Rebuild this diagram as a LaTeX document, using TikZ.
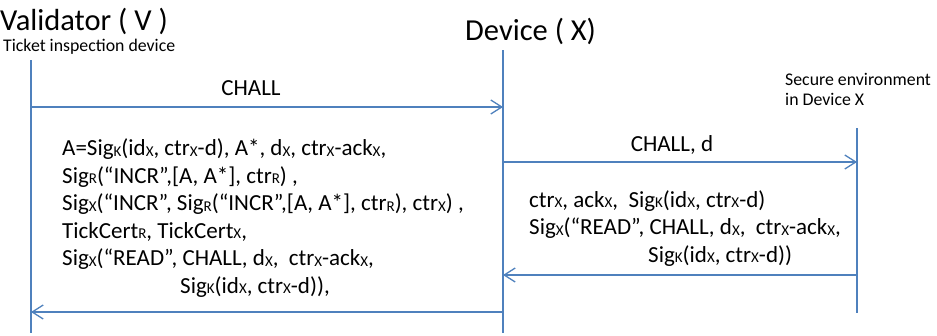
\documentclass[tikz,border=0pt]{standalone}
\usepackage{fontspec}
\setmainfont{Carlito}
\usetikzlibrary{arrows.meta}
\definecolor{lineblue}{RGB}{79,129,189}
\newcommand\lo[1]{\raisebox{-0.9pt}{\fontsize{15}{15}\selectfont #1}}

\begin{document}
\begin{tikzpicture}[x=1pt,y=-1pt,
  life/.style={draw=lineblue,line width=1.3pt},
  msg/.style={draw=lineblue,line width=1.3pt,-{Straight Barb[length=11pt,width=14pt,line width=1.3pt]}},
  title/.style={inner sep=0pt,anchor=base west,font=\fontsize{30.5}{30}\selectfont},
  note/.style={inner sep=0pt,anchor=base west,font=\fontsize{17.8}{20}\selectfont,align=left},
  lbl/.style={inner sep=0pt,anchor=base,font=\fontsize{23}{23}\selectfont},
  block/.style={inner sep=0pt,anchor=base west,font=\fontsize{23}{27.5}\selectfont,align=left}]
\useasboundingbox (0,0) rectangle (937,335);

\node[title] (vtitle) at (0,30) {Validator ( V )};
\node[note] (vnote) at (3,51) {Ticket inspection device};
\node[title] (xtitle) at (465,40) {Device ( X)};
% multi-line nodes: base is the last line
\node[note] (snote) at (785,105) {Secure environment\\in Device X};

\coordinate (vtop) at (31,60);   \coordinate (vbot) at (31,333);
\coordinate (xtop) at (503,50);  \coordinate (xbot) at (503,333);
\coordinate (stop) at (857,128); \coordinate (sbot) at (857,313);
\draw[life] (vtop) -- (vbot);
\draw[life] (xtop) -- (xbot);
\draw[life] (stop) -- (sbot);

\coordinate (v1) at (31,107);  \coordinate (x1) at (503,107);
\coordinate (x2) at (503,162); \coordinate (s2) at (857,162);
\coordinate (s3) at (857,275); \coordinate (x3) at (503,275);
\coordinate (x4) at (503,312); \coordinate (v4) at (31,312);

\draw[msg] (v1) -- (x1);
\node[lbl] (chall) at (251,95) {CHALL};
\draw[msg] (x2) -- (s2);
\node[lbl] (challd) at (672,151) {CHALL, d};
\draw[msg] (s3) -- (x3);
\node[block] (xreply) at (529,262) {ctr\lo{X}, ack\lo{X},\ \ Sig\lo{K}(id\lo{X}, ctr\lo{X}-d)\\
Sig\lo{X}(“READ”, CHALL, d\lo{X},\ \ ctr\lo{X}-ack\lo{X},\\
\hspace*{119pt}Sig\lo{K}(id\lo{X}, ctr\lo{X}-d))};
\draw[msg] (x4) -- (v4);
\node[block] (vproof) at (62,293) {A=Sig\lo{K}(id\lo{X}, ctr\lo{X}-d), A*, d\lo{X}, ctr\lo{X}-ack\lo{X},\\
Sig\lo{R}(“INCR”,[A, A*], ctr\lo{R}) ,\\
Sig\lo{X}(“INCR”, Sig\lo{R}(“INCR”,[A, A*], ctr\lo{R}), ctr\lo{X}) ,\\
TickCert\lo{R}, TickCert\lo{X},\\
Sig\lo{X}(“READ”, CHALL, d\lo{X},\ \ ctr\lo{X}-ack\lo{X},\\
\hspace*{118pt}Sig\lo{K}(id\lo{X}, ctr\lo{X}-d)),};
\end{tikzpicture}
\end{document}
